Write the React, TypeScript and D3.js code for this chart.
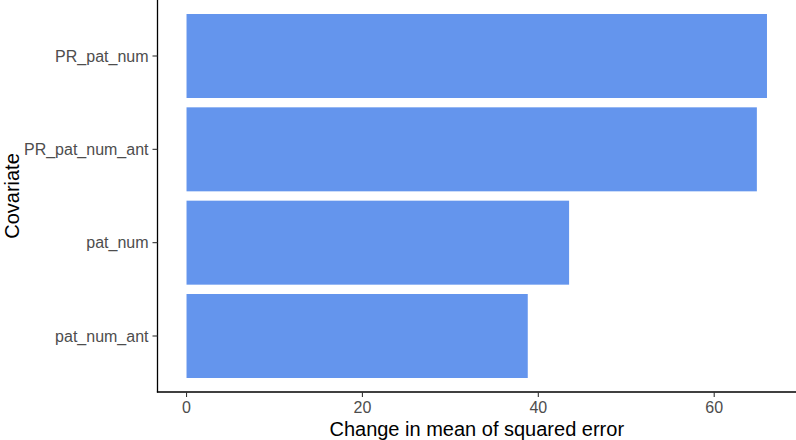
import React from "react";
import * as d3 from "d3";

const categories = ["PR_pat_num", "PR_pat_num_ant", "pat_num", "pat_num_ant"];
const values = [66.0, 64.85, 43.5, 38.8];
const xTicks = [0, 20, 40, 60];
const xTitle = "Change in mean of squared error";
const yTitle = "Covariate";

const W = 796;
const H = 440;
const panel = { left: 157.5, right: 796, top: 0, bottom: 392 };
const FONT = "'Liberation Sans', Arial, sans-serif";

export default function App() {
  const maxV = d3.max(values) as number;
  const ex = maxV * 0.05;
  const x = d3.scaleLinear().domain([-ex, maxV + ex]).range([panel.left, panel.right]);
  const y = d3
    .scaleBand<string>()
    .domain(categories)
    .range([panel.top, panel.bottom])
    .paddingInner(0.1)
    .paddingOuter(0.15)
    .align(0.5);

  return (
    <svg
      width={W}
      height={H}
      style={{ position: "absolute", left: 0, top: 0, background: "#fff" }}
      fontFamily={FONT}
    >
      <rect x={0} y={0} width={W} height={H} fill="#fff" />
      {categories.map((c, i) => (
        <rect
          key={c}
          x={x(0)}
          y={y(c)}
          width={x(values[i]) - x(0)}
          height={y.bandwidth()}
          fill="#6495ED"
        />
      ))}
      {/* axis lines */}
      <line x1={panel.left} x2={panel.left} y1={panel.top} y2={panel.bottom + 0.6} stroke="#000" strokeWidth={1.3} />
      <line x1={panel.left - 0.6} x2={panel.right} y1={panel.bottom} y2={panel.bottom} stroke="#000" strokeWidth={1.3} />
      {/* x ticks */}
      {xTicks.map((t) => (
        <g key={t}>
          <line x1={x(t)} x2={x(t)} y1={panel.bottom} y2={panel.bottom + 5} stroke="#333" strokeWidth={1.1} />
          <text x={x(t)} y={412.5} textAnchor="middle" fontSize={16} fill="#4d4d4d">
            {t}
          </text>
        </g>
      ))}
      {/* y ticks */}
      {categories.map((c) => {
        const cy = (y(c) as number) + y.bandwidth() / 2;
        return (
          <g key={c}>
            <line x1={panel.left - 5} x2={panel.left} y1={cy} y2={cy} stroke="#333" strokeWidth={1.1} />
            <text x={panel.left - 9} y={cy} dy="0.35em" textAnchor="end" fontSize={16} fill="#4d4d4d">
              {c}
            </text>
          </g>
        );
      })}
      <text x={(panel.left + panel.right) / 2} y={436} textAnchor="middle" fontSize={20} fill="#000">
        {xTitle}
      </text>
      <text
        transform={`translate(18.5, ${(panel.top + panel.bottom) / 2}) rotate(-90)`}
        textAnchor="middle"
        fontSize={20}
        fill="#000"
      >
        {yTitle}
      </text>
    </svg>
  );
}
